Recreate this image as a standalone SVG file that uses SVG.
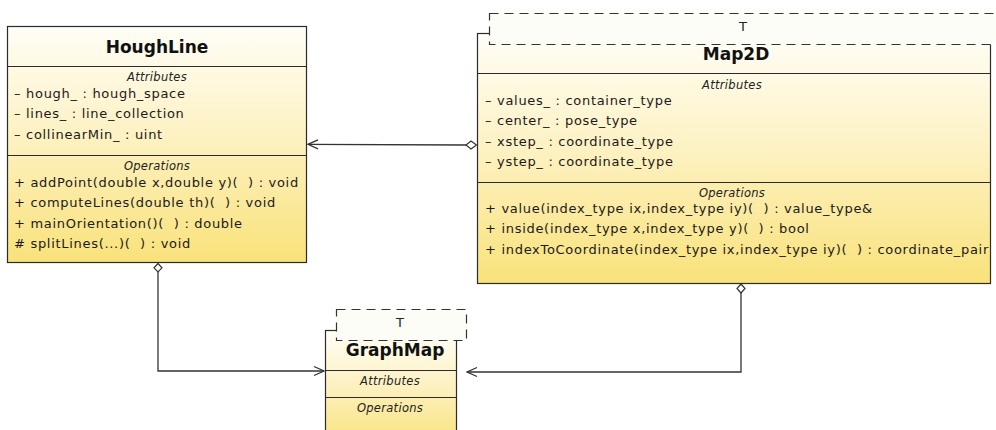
<svg xmlns="http://www.w3.org/2000/svg" width="996" height="430" viewBox="0 0 996 430">
  <defs>
    <linearGradient id="classFill" x1="0" y1="0" x2="0" y2="1">
      <stop offset="0" stop-color="#fffef7"/>
      <stop offset="0.45" stop-color="#fdf2c4"/>
      <stop offset="1" stop-color="#f9e27a"/>
    </linearGradient>
    <marker id="openArrow" viewBox="0 0 12 12" refX="11" refY="6" markerWidth="12" markerHeight="12" markerUnits="userSpaceOnUse" orient="auto">
      <path d="M1,1.5 L11,6 L1,10.5" fill="none" stroke="#333" stroke-width="1.3"/>
    </marker>
  </defs>
  <style>
    .box { fill: url(#classFill); stroke: #2b2b2b; stroke-width: 1.2; }
    .div { stroke: #2b2b2b; stroke-width: 1.2; }
    .tpl { fill: #fdfdf8; stroke: #333; stroke-width: 1.2; stroke-dasharray: 9 6; }
    .name { font-family: "DejaVu Sans", sans-serif; font-size: 17px; font-weight: bold; fill: #111; text-anchor: middle; }
    .sec { font-family: "DejaVu Sans", sans-serif; font-size: 11.5px; font-style: italic; letter-spacing: 0.3px; fill: #222; text-anchor: middle; }
    .mem { font-family: "DejaVu Sans", sans-serif; font-size: 13px; letter-spacing: 0.7px; fill: #1a1a1a; white-space: pre; }
    .tp { font-family: "DejaVu Sans", sans-serif; font-size: 13px; fill: #222; text-anchor: middle; }
    .edge { fill: none; stroke: #333; stroke-width: 1.3; }
    .diamond { fill: #fff; stroke: #333; stroke-width: 1.2; }
  </style>

  <!-- connectors -->
  <g id="connectors">
    <path class="edge" d="M466,145 L308,144.3" marker-end="url(#openArrow)"/>
    <path class="diamond" d="M476.5,145 L471,141 L466,145 L471,149 Z"/>
    <path class="edge" d="M158,272 L158,371 L324,371" marker-end="url(#openArrow)"/>
    <path class="diamond" d="M158,263.5 L162,267.8 L158,272 L154,267.8 Z"/>
    <path class="edge" d="M741,293 L741,372 L467,372" marker-end="url(#openArrow)"/>
    <path class="diamond" d="M741,284 L745,288.5 L741,293 L737,288.5 Z"/>
  </g>

  <!-- HoughLine class -->
  <g id="HoughLine">
    <rect class="box" x="7.5" y="26.5" width="299" height="236"/>
    <line class="div" x1="7.5" y1="66.5" x2="306.5" y2="66.5"/>
    <line class="div" x1="7.5" y1="155.5" x2="306.5" y2="155.5"/>
    <text class="name" x="157" y="53">HoughLine</text>
    <text class="sec" x="157" y="81">Attributes</text>
    <text class="mem" x="14" y="97.5">– hough_ : hough_space</text>
    <text class="mem" x="14" y="118">– lines_ : line_collection</text>
    <text class="mem" x="14" y="138.5">– collinearMin_ : uint</text>
    <text class="sec" x="157" y="170">Operations</text>
    <text class="mem" x="14" y="186.5" xml:space="preserve">+ addPoint(double x,double y)(  ) : void</text>
    <text class="mem" x="14" y="207" xml:space="preserve">+ computeLines(double th)(  ) : void</text>
    <text class="mem" x="14" y="227.5" xml:space="preserve">+ mainOrientation()(  ) : double</text>
    <text class="mem" x="14" y="248" xml:space="preserve"># splitLines(...)(  ) : void</text>
  </g>

  <!-- Map2D template class -->
  <g id="Map2D">
    <rect class="box" x="477.5" y="33.5" width="513" height="250"/>
    <line class="div" x1="477.5" y1="73.5" x2="990.5" y2="73.5"/>
    <line class="div" x1="477.5" y1="182.5" x2="990.5" y2="182.5"/>
    <rect class="tpl" x="489.5" y="13.5" width="520" height="31"/>
    <text class="tp" x="743" y="31">T</text>
    <text class="name" x="736" y="59.5">Map2D</text>
    <text class="sec" x="732" y="89">Attributes</text>
    <text class="mem" x="485" y="104.5">– values_ : container_type</text>
    <text class="mem" x="485" y="125">– center_ : pose_type</text>
    <text class="mem" x="485" y="145.5">– xstep_ : coordinate_type</text>
    <text class="mem" x="485" y="166">– ystep_ : coordinate_type</text>
    <text class="sec" x="732" y="197">Operations</text>
    <text class="mem" x="485" y="212.5" xml:space="preserve">+ value(index_type ix,index_type iy)(  ) : value_type&amp;</text>
    <text class="mem" x="485" y="233" xml:space="preserve">+ inside(index_type x,index_type y)(  ) : bool</text>
    <text class="mem" x="485" y="253.5" xml:space="preserve">+ indexToCoordinate(index_type ix,index_type iy)(  ) : coordinate_pair</text>
  </g>

  <!-- GraphMap template class -->
  <g id="GraphMap">
    <rect class="box" x="325.5" y="330.5" width="131" height="115"/>
    <line class="div" x1="325.5" y1="370.5" x2="456.5" y2="370.5"/>
    <line class="div" x1="325.5" y1="397.5" x2="456.5" y2="397.5"/>
    <text class="name" x="395" y="355.5">GraphMap</text>
    <rect class="tpl" x="336.5" y="309.5" width="130" height="31"/>
    <text class="tp" x="400" y="327">T</text>
    <text class="sec" x="390" y="385">Attributes</text>
    <text class="sec" x="390" y="412">Operations</text>
  </g>
</svg>
